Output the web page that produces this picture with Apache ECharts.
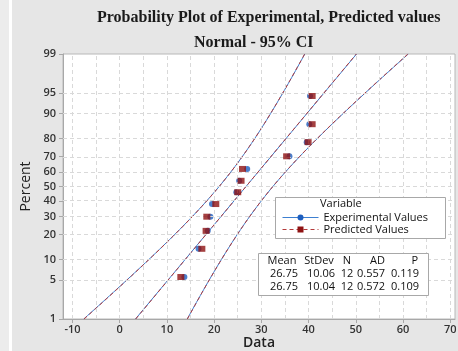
<!DOCTYPE html>
<html>
<head>
<meta charset="utf-8">
<script src="https://cdn.jsdelivr.net/npm/echarts@6/dist/echarts.min.js"></script>
<style>
  html, body { margin: 0; padding: 0; background: #e6e6e6; }
  #chart { width: 458px; height: 351px; }
</style>
</head>
<body>
<div id="chart"></div>
<script>
// Probability axis ticks (percent) and data axis ticks
const percentTicks = [1, 5, 10, 20, 30, 40, 50, 60, 70, 80, 90, 95, 99];
const dataTicks = [-10, 0, 10, 20, 30, 40, 50, 60, 70];
const dataGridTicks = [-10, -5, 0, 5, 10, 15, 20, 25, 30, 35, 40, 45, 50, 55, 60, 65, 70];

// Plotting positions (percent) of the ordered observations
const plotPercents = [5.6, 13.7, 21.8, 29.8, 37.9, 46.0, 54.0, 62.1, 70.2, 78.2, 86.3, 94.4];

// Ordered observations
const experimentalValues = [13.7, 16.7, 18.65, 19.2, 19.55, 24.7, 25.3, 27.0, 35.95, 39.6, 40.15, 40.3];
const predictedValues = [12.95, 17.4, 18.3, 18.45, 20.35, 25.0, 25.7, 26.0, 35.35, 39.9, 40.75, 40.75];

// Summary table
const statsHeader = ['Mean', 'StDev', 'N', 'AD', 'P'];
const statsExperimental = ['26.75', '10.06', '12', '0.557', '0.119'];
const statsPredicted = ['26.75', '10.04', '12', '0.572', '0.109'];

// Fitted normal parameters
const fitExperimental = { mean: 26.75, sd: 10.06, n: 12 };
const fitPredicted = { mean: 26.75, sd: 10.04, n: 12 };

// Inverse standard normal CDF (Acklam)
function probit(p) {
  const a = [-3.969683028665376e+01, 2.209460984245205e+02, -2.759285104469687e+02, 1.383577518672690e+02, -3.066479806614716e+01, 2.506628277459239e+00];
  const b = [-5.447609879822406e+01, 1.615858368580409e+02, -1.556989798598866e+02, 6.680131188771972e+01, -1.328068155288572e+01];
  const c = [-7.784894002430293e-03, -3.223964580411365e-01, -2.400758277161838e+00, -2.549732539343734e+00, 4.374664141464968e+00, 2.938163982698783e+00];
  const d = [7.784695709041462e-03, 3.224671290700398e-01, 2.445134137142996e+00, 3.754408661907416e+00];
  const pl = 0.02425, ph = 1 - pl;
  let q, r;
  if (p < pl) {
    q = Math.sqrt(-2 * Math.log(p));
    return (((((c[0] * q + c[1]) * q + c[2]) * q + c[3]) * q + c[4]) * q + c[5]) /
      ((((d[0] * q + d[1]) * q + d[2]) * q + d[3]) * q + 1);
  }
  if (p > ph) {
    q = Math.sqrt(-2 * Math.log(1 - p));
    return -(((((c[0] * q + c[1]) * q + c[2]) * q + c[3]) * q + c[4]) * q + c[5]) /
      ((((d[0] * q + d[1]) * q + d[2]) * q + d[3]) * q + 1);
  }
  q = p - 0.5; r = q * q;
  return (((((a[0] * r + a[1]) * r + a[2]) * r + a[3]) * r + a[4]) * r + a[5]) * q /
    (((((b[0] * r + b[1]) * r + b[2]) * r + b[3]) * r + b[4]) * r + 1);
}

const zLo = probit(0.01);
const zHi = probit(0.99);
const zTicks = percentTicks.map(p => probit(p / 100));

function percentLabel(v) {
  for (let i = 0; i < zTicks.length; i++) {
    if (Math.abs(zTicks[i] - v) < 1e-6) return String(percentTicks[i]);
  }
  return '';
}

// Fitted line and 95% confidence band of the percentiles
function fitLine(f) {
  return [[f.mean + f.sd * zLo, zLo], [f.mean + f.sd * zHi, zHi]];
}
function band(f, sign) {
  const pts = [];
  const steps = 80;
  for (let i = 0; i <= steps; i++) {
    const z = zLo + (zHi - zLo) * i / steps;
    const se = f.sd * Math.sqrt(1 / f.n + z * z / (2 * f.n));
    pts.push([f.mean + f.sd * z + sign * 1.96 * se, z]);
  }
  return pts;
}

const BLUE_LINE = '#3d7fd0';
const BLUE_DOT = '#1e5fbf';
const RED_LINE = '#b43a3a';
const RED_DOT = '#8e1212';
const GRID_LINE = '#d9d9d9';
const AXIS_LINE = '#a8a8a8';
const FONT = '"Open Sans", "Noto Sans", sans-serif';

const expPoints = experimentalValues.map((v, i) => [v, probit(plotPercents[i] / 100)]);
const predPoints = predictedValues.map((v, i) => [v, probit(plotPercents[i] / 100)]);

function solidLine(name, data) {
  return {
    type: 'line', name: name, data: data, showSymbol: false, symbol: 'circle',
    smooth: false, silent: true, z: 2,
    itemStyle: { color: BLUE_DOT },
    lineStyle: { color: BLUE_LINE, width: 1 }
  };
}
function dashedLine(name, data) {
  return {
    type: 'line', name: name, data: data, showSymbol: false, symbol: 'rect',
    smooth: false, silent: true, z: 3,
    itemStyle: { color: RED_DOT },
    lineStyle: { color: RED_LINE, width: 1, type: [4, 3] }
  };
}

// Dashed reference grid at the tick positions
const gridMarks = zTicks.map(z => ({ yAxis: z }))
  .concat(dataGridTicks.map(v => ({ xAxis: v })));

// Summary table text, anchored per column
const headerAnchors = [[282, 'center'], [319, 'center'], [347, 'center'], [385, 'right'], [418, 'right']];
const rowAnchors = [[298, 'right'], [335, 'right'], [347, 'center'], [385, 'right'], [419, 'right']];
const TEXT_COLOR = '#111';
const tableTexts = [];
statsHeader.forEach((h, i) => {
  tableTexts.push({
    type: 'text', x: headerAnchors[i][0], y: 261, z: 11,
    style: { text: h, fill: TEXT_COLOR, fontFamily: FONT, fontSize: 11, fontWeight: 500, align: headerAnchors[i][1], verticalAlign: 'middle' }
  });
});
[statsExperimental, statsPredicted].forEach((row, r) => {
  row.forEach((t, i) => {
    tableTexts.push({
      type: 'text', x: rowAnchors[i][0], y: 274 + r * 13, z: 11,
      style: { text: t, fill: TEXT_COLOR, fontFamily: FONT, fontSize: 11, fontWeight: 500, align: rowAnchors[i][1], verticalAlign: 'middle' }
    });
  });
});

const chart = echarts.init(document.getElementById('chart'), null, { renderer: 'canvas' });

chart.setOption({
  backgroundColor: '#e6e6e6',
  animation: false,
  title: [
    {
      text: 'Probability Plot of Experimental, Predicted values', left: 92, top: 5,
      textStyle: { fontFamily: '"Liberation Serif", "Times New Roman", serif', fontWeight: 'bold', fontSize: 16, color: '#1a1a1a' }
    },
    {
      text: 'Normal - 95% CI', left: 189, top: 30,
      textStyle: { fontFamily: '"Liberation Serif", "Times New Roman", serif', fontWeight: 'bold', fontSize: 16, color: '#1a1a1a' }
    }
  ],
  grid: {
    left: 63, right: 3, top: 54, bottom: 32,
    outerBoundsMode: 'none', containLabel: false,
    show: true, backgroundColor: '#ffffff', borderColor: '#b8b8b8', borderWidth: 1
  },
  xAxis: {
    type: 'value', min: -12, max: 71, position: 'bottom',
    name: 'Data', nameLocation: 'middle', nameGap: 17, nameMoveOverlap: false,
    nameTextStyle: { fontFamily: FONT, fontSize: 14, fontWeight: 600, color: '#222', verticalAlign: 'top' },
    axisLine: { show: true, onZero: false, lineStyle: { color: AXIS_LINE } },
    axisTick: { show: true, length: 4, customValues: dataTicks, lineStyle: { color: AXIS_LINE } },
    axisLabel: { customValues: dataTicks, margin: 5, fontFamily: FONT, fontSize: 11, fontWeight: 600, color: '#333' },
    splitLine: { show: false }
  },
  yAxis: {
    type: 'value', min: zLo, max: zHi,
    name: 'Percent', nameLocation: 'middle', nameGap: 30, nameRotate: 90, nameMoveOverlap: false,
    nameTextStyle: { fontFamily: FONT, fontSize: 14, color: '#222' },
    axisLine: { show: true, onZero: false, lineStyle: { color: AXIS_LINE } },
    axisTick: { show: true, length: 4, customValues: zTicks, lineStyle: { color: AXIS_LINE } },
    axisLabel: { customValues: zTicks, formatter: percentLabel, margin: 7, fontFamily: FONT, fontSize: 11, fontWeight: 600, color: '#333' },
    splitLine: { show: false }
  },
  legend: {
    data: ['Experimental Values', 'Predicted Values'],
    orient: 'vertical', left: 277, top: 207,
    itemWidth: 36, itemHeight: 7.5, itemGap: 1, itemTextGap: 7,
    lineStyle: { width: 1 },
    textStyle: { fontFamily: FONT, fontSize: 11, fontWeight: 500, color: TEXT_COLOR },
    selectedMode: false, z: 20
  },
  graphic: [
    { type: 'rect', shape: { x: 9, y: 0, width: 3, height: 351 }, style: { fill: '#ffffff' }, z: -1 },
    { type: 'rect', shape: { x: 0, y: 0, width: 9, height: 351 }, style: { fill: '#ececec' }, z: -1 },
    { type: 'rect', shape: { x: 275.5, y: 197.5, width: 170, height: 41 }, style: { fill: '#ffffff', stroke: AXIS_LINE, lineWidth: 1 }, z: 10 },
    { type: 'text', x: 320, y: 204, z: 11, style: { text: 'Variable', fill: TEXT_COLOR, fontFamily: FONT, fontSize: 11, fontWeight: 500, verticalAlign: 'middle' } },
    { type: 'rect', shape: { x: 258.5, y: 253.5, width: 170, height: 42 }, style: { fill: '#ffffff', stroke: AXIS_LINE, lineWidth: 1 }, z: 10 }
  ].concat(tableTexts),
  series: [
    {
      type: 'line', name: 'grid', data: [], silent: true, z: 1,
      markLine: {
        silent: true, symbol: 'none', animation: false,
        label: { show: false },
        lineStyle: { color: GRID_LINE, type: [4, 3], width: 1 },
        emphasis: { disabled: true },
        data: gridMarks
      }
    },
    solidLine('Experimental Values', fitLine(fitExperimental)),
    dashedLine('Predicted Values', fitLine(fitPredicted)),
    solidLine('band-exp-lower', band(fitExperimental, -1)),
    solidLine('band-exp-upper', band(fitExperimental, 1)),
    dashedLine('band-pred-lower', band(fitPredicted, -1)),
    dashedLine('band-pred-upper', band(fitPredicted, 1)),
    {
      type: 'scatter', name: 'exp-points', data: expPoints, symbol: 'circle', symbolSize: 6, z: 4,
      itemStyle: { color: BLUE_DOT }
    },
    {
      type: 'scatter', name: 'pred-points', data: predPoints, symbol: 'rect', symbolSize: [7, 6], z: 5,
      itemStyle: { color: RED_DOT }
    }
  ]
});
</script>
</body>
</html>
